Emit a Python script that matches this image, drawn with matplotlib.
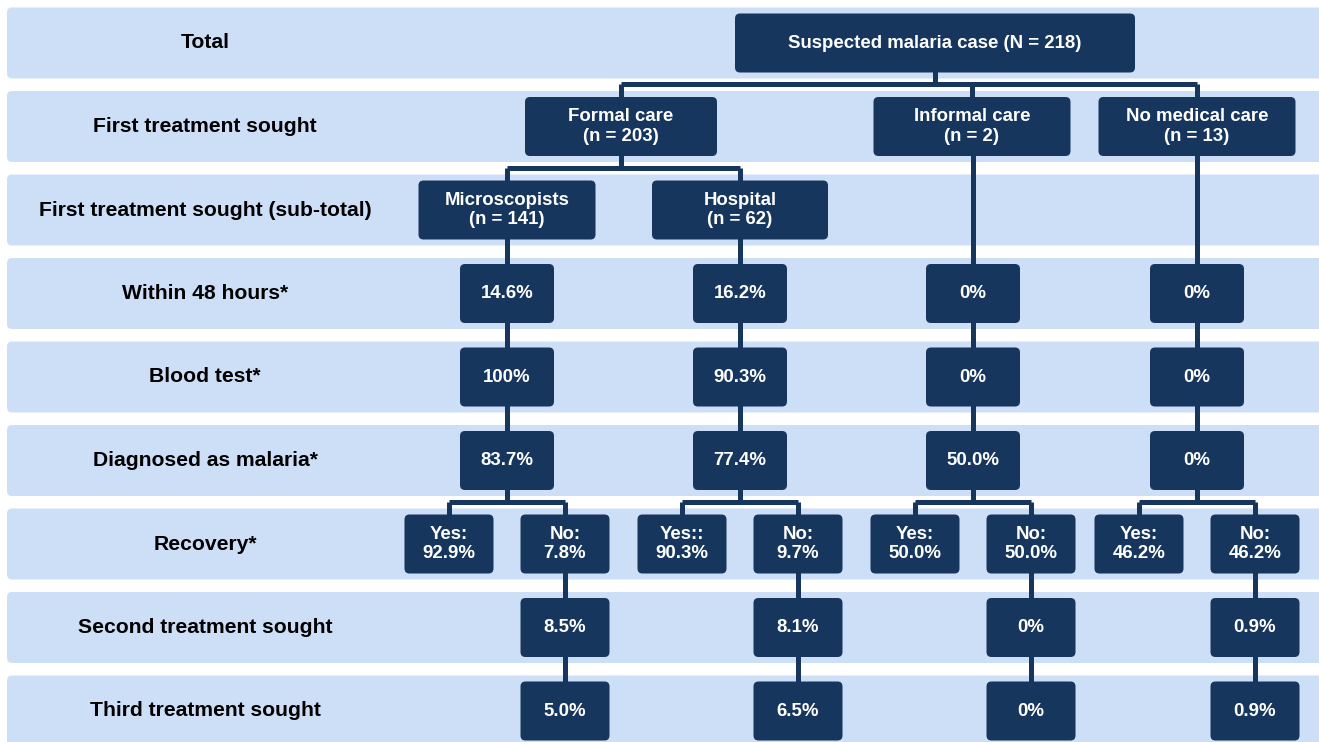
import matplotlib
matplotlib.use("Agg")
import matplotlib.pyplot as plt
from matplotlib.patches import FancyBboxPatch

plt.rcParams["font.family"] = ["Liberation Sans", "DejaVu Sans"]

# Chart content
row_labels = ["Total", "First treatment sought", "First treatment sought (sub-total)",
              "Within 48 hours*", "Blood test*", "Diagnosed as malaria*", "Recovery*",
              "Second treatment sought", "Third treatment sought"]
root_label = "Suspected malaria case (N = 218)"
care_labels = ["Formal care\n(n = 203)", "Informal care\n(n = 2)", "No medical care\n(n = 13)"]
formal_labels = ["Microscopists\n(n = 141)", "Hospital\n(n = 62)"]

# one value per branch: Microscopists, Hospital, Informal care, No medical care
within_48h = ["14.6%", "16.2%", "0%", "0%"]
blood_test = ["100%", "90.3%", "0%", "0%"]
diagnosed = ["83.7%", "77.4%", "50.0%", "0%"]
yes_tags = ["Yes:", "Yes::", "Yes:", "Yes:"]
recovery_yes = ["92.9%", "90.3%", "50.0%", "46.2%"]
recovery_no = ["7.8%", "9.7%", "50.0%", "46.2%"]
second_sought = ["8.5%", "8.1%", "0%", "0.9%"]
third_sought = ["5.0%", "6.5%", "0%", "0.9%"]

# Layout (pixels)
W, H = 1319, 742
row_y = [43 + 83.5 * i for i in range(len(row_labels))]
band_h = 71
branch_x = [507, 740, 973, 1197]
care_x = [621, 972, 1197]
care_w = [192, 197, 197]
formal_w = [177, 176]
root_x, root_w = 935, 400
box_h = 59
NAVY = "#17365d"
BAND = "#cddff7"
LW = 3.6

fig = plt.figure(figsize=(W / 100, H / 100), dpi=100)
ax = fig.add_axes([0, 0, 1, 1])
ax.set_xlim(0, W)
ax.set_ylim(H, 0)
ax.axis("off")


def box(cx, cy, w, text, h=box_h, size=13.4):
    ax.add_patch(FancyBboxPatch((cx - w / 2, cy - h / 2), w, h,
                                boxstyle="round,pad=0,rounding_size=5",
                                fc=NAVY, ec="none", zorder=3))
    ax.text(cx, cy, text, color="white", fontsize=size, fontweight="bold",
            ha="center", va="center", linespacing=1.2, zorder=4)


def line(xs, ys):
    ax.plot(xs, ys, color=NAVY, lw=LW, solid_capstyle="butt",
            solid_joinstyle="miter", zorder=2)


# Background bands and row labels
for y, lab in zip(row_y, row_labels):
    ax.add_patch(FancyBboxPatch((7, y - band_h / 2), W + 20, band_h,
                                boxstyle="round,pad=0,rounding_size=5",
                                fc=BAND, ec="none", zorder=0))
    ax.text(205, y, lab, fontsize=15.2, fontweight="bold", ha="center",
            va="center", color="black", zorder=1)

# Root -> care types
bar1 = 84
line([root_x, root_x], [row_y[0], bar1])
line([care_x[0], care_x[-1]], [bar1, bar1])
for cx in care_x:
    line([cx, cx], [bar1, row_y[1]])

# Formal care -> Microscopists / Hospital
bar2 = 168
line([care_x[0], care_x[0]], [row_y[1], bar2])
line([branch_x[0], branch_x[1]], [bar2, bar2])
for bx in branch_x[:2]:
    line([bx, bx], [bar2, row_y[2]])

# Vertical chains down to diagnosis
for i, bx in enumerate(branch_x):
    top = row_y[2] if i < 2 else row_y[1]
    line([bx, bx], [top, row_y[5]])

# Recovery split and follow-up chain
off = 58
bar3 = 502
for bx in branch_x:
    line([bx, bx], [row_y[5], bar3])
    line([bx - off, bx + off], [bar3, bar3])
    line([bx - off, bx - off], [bar3, row_y[6]])
    line([bx + off, bx + off], [bar3, row_y[8]])

# Boxes
box(root_x, row_y[0], root_w, root_label)
for cx, w, lab in zip(care_x, care_w, care_labels):
    box(cx, row_y[1], w, lab)
for bx, w, lab in zip(branch_x[:2], formal_w, formal_labels):
    box(bx, row_y[2], w, lab)
for r, vals in zip([3, 4, 5], [within_48h, blood_test, diagnosed]):
    for bx, v in zip(branch_x, vals):
        box(bx, row_y[r], 94, v)
for bx, tag, yv, nv in zip(branch_x, yes_tags, recovery_yes, recovery_no):
    box(bx - off, row_y[6], 89, f"{tag}\n{yv}")
    box(bx + off, row_y[6], 89, f"No:\n{nv}")
for r, vals in zip([7, 8], [second_sought, third_sought]):
    for bx, v in zip(branch_x, vals):
        box(bx + off, row_y[r], 89, v)

fig.savefig("out.png", dpi=100)
